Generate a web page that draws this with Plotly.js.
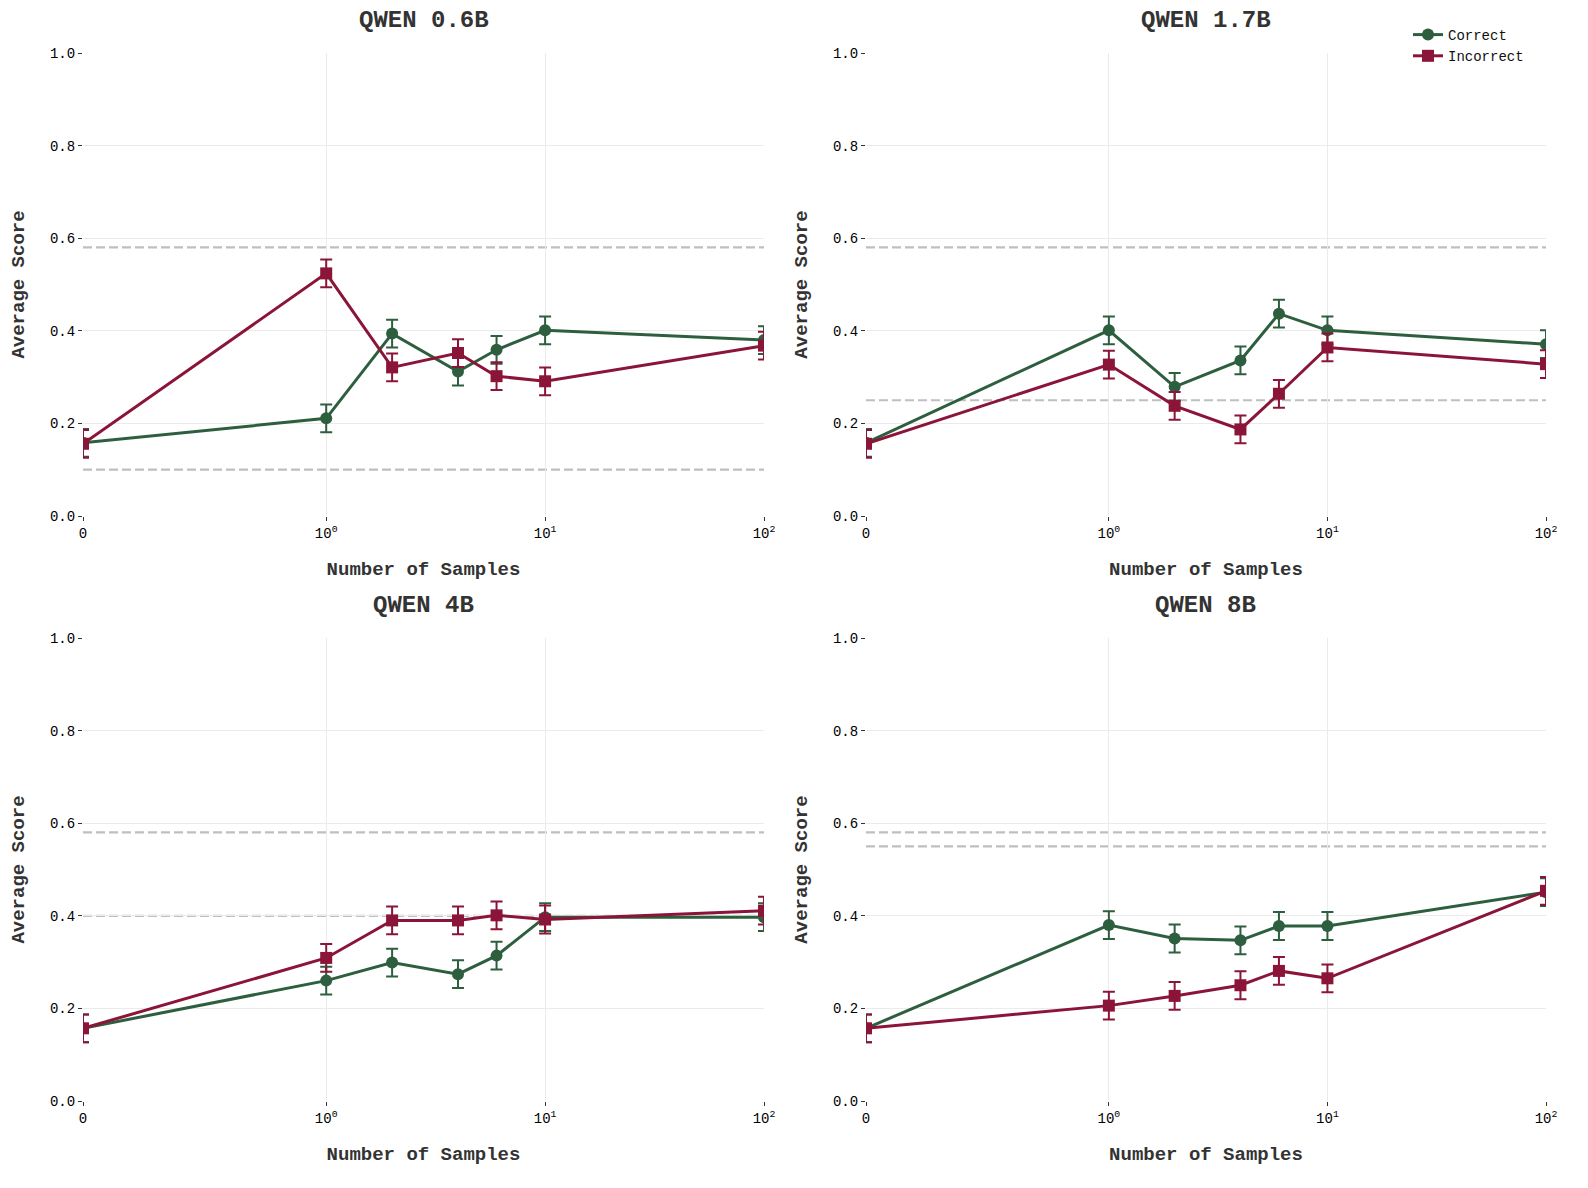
<!DOCTYPE html>
<html>
<head>
<meta charset="utf-8">
<script src="https://cdn.plot.ly/plotly-3.0.1.min.js"></script>
<style>html,body{margin:0;padding:0;background:#fff}</style>
</head>
<body>
<div id="chart" style="width:1588px;height:1188px"></div>
<script>
// sample counts on the x axis (symlog in the original)
const samples = [0, 1, 2, 4, 6, 10, 100];

const modelNames = ["QWEN 0.6B", "QWEN 1.7B", "QWEN 4B", "QWEN 8B"];

// average score per sample count
const correct_06b   = [0.158, 0.211, 0.394, 0.312, 0.359, 0.401, 0.380];
const incorrect_06b = [0.156, 0.524, 0.321, 0.352, 0.302, 0.291, 0.368];
const correct_17b   = [0.158, 0.401, 0.279, 0.336, 0.437, 0.401, 0.371];
const incorrect_17b = [0.156, 0.327, 0.238, 0.187, 0.264, 0.364, 0.328];
const correct_4b    = [0.157, 0.260, 0.299, 0.274, 0.314, 0.397, 0.397];
const incorrect_4b  = [0.157, 0.309, 0.390, 0.390, 0.401, 0.392, 0.411];
const correct_8b    = [0.157, 0.380, 0.351, 0.347, 0.378, 0.378, 0.451];
const incorrect_8b  = [0.157, 0.206, 0.227, 0.250, 0.281, 0.265, 0.454];

// error bar half widths
const correctErr   = [0.03, 0.03, 0.03, 0.03, 0.03, 0.03, 0.03];
const incorrectErr = [0.03, 0.03, 0.03, 0.03, 0.03, 0.03, 0.03];

// dashed reference levels per panel
const refs_06b = [0.58, 0.10];
const refs_17b = [0.58, 0.25];
const refs_4b  = [0.58, 0.40];
const refs_8b  = [0.58, 0.55];

const xTickVals = [0, 1, 10, 100];
const xTickText = ["0", "10<sup>0</sup>", "10<sup>1</sup>", "10<sup>2</sup>"];
const yTickVals = [0, 0.2, 0.4, 0.6, 0.8, 1.0];

const correctSeries   = [correct_06b, correct_17b, correct_4b, correct_8b];
const incorrectSeries = [incorrect_06b, incorrect_17b, incorrect_4b, incorrect_8b];
const refSeries       = [refs_06b, refs_17b, refs_4b, refs_8b];

const GREEN = "#2d5e3e";
const RED = "#8b1538";
const FONT = "Liberation Mono, DejaVu Sans Mono, monospace";

// matplotlib symlog, linthresh 1, linscale 1, base 10
const LINSCALE = 1 / (1 - 1 / 10);
function symlog(n) {
    return n <= 1 ? n * LINSCALE : LINSCALE + Math.log10(n);
}

const xs = samples.map(symlog);

// panel boxes in paper fractions
const W = 1588, H = 1188;
const colDomains = [[83 / W, 764 / W], [866 / W, 1546 / W]];
const rowDomains = [[1 - 516 / H, 1 - 53 / H], [1 - 1101 / H, 1 - 638 / H]];

const traces = [];
const shapes = [];
const annotations = [];
const layout = {
    width: W,
    height: H,
    margin: { l: 0, r: 0, t: 0, b: 0 },
    paper_bgcolor: "#fff",
    plot_bgcolor: "#fff",
    font: { family: FONT, color: "#000" },
    showlegend: true,
    legend: {
        x: 1408 / W, y: 1 - 19 / H,
        xanchor: "left", yanchor: "top",
        font: { family: FONT, size: 14, color: "#111" },
        bgcolor: "rgba(255,255,255,0)",
        itemwidth: 30,
        tracegroupgap: 0
    }
};

modelNames.forEach((name, i) => {
    const n = i + 1;
    const xa = n === 1 ? "x" : "x" + n;
    const ya = n === 1 ? "y" : "y" + n;
    const col = i % 2, row = Math.floor(i / 2);

    traces.push({
        x: xs, y: correctSeries[i],
        xaxis: xa, yaxis: ya,
        type: "scatter", mode: "lines+markers",
        name: "Correct", legendgroup: "c", showlegend: i === 0,
        line: { color: GREEN, width: 3 },
        marker: { color: GREEN, size: 12, symbol: "circle" },
        error_y: { type: "data", array: correctErr, color: GREEN, thickness: 2, width: 6 }
    });

    traces.push({
        x: xs, y: incorrectSeries[i],
        xaxis: xa, yaxis: ya,
        type: "scatter", mode: "lines+markers",
        name: "Incorrect", legendgroup: "i", showlegend: i === 0,
        line: { color: RED, width: 3 },
        marker: { color: RED, size: 12, symbol: "square" },
        error_y: { type: "data", array: incorrectErr, color: RED, thickness: 2, width: 6 }
    });

    refSeries[i].forEach(level => {
        shapes.push({
            type: "line", layer: "below",
            xref: xa + " domain", yref: ya,
            x0: 0, x1: 1, y0: level, y1: level,
            line: { color: "#bfbfbf", width: 2.2, dash: "9px,4px" }
        });
    });

    const dom = colDomains[col];
    annotations.push({
        text: "<b>" + name + "</b>",
        xref: "paper", yref: "paper",
        x: (dom[0] + dom[1]) / 2,
        y: rowDomains[row][1] + 17 / H,
        xanchor: "center", yanchor: "bottom",
        showarrow: false,
        font: { family: FONT, size: 24, color: "#333" }
    });

    layout["xaxis" + (n === 1 ? "" : n)] = {
        domain: dom,
        anchor: ya,
        range: [0, symlog(100)],
        tickvals: xTickVals.map(symlog),
        ticktext: xTickText,
        tickfont: { family: FONT, size: 14, color: "#000" },
        ticks: "outside", ticklen: 4, tickwidth: 1, tickcolor: "#333",
        showgrid: true, gridcolor: "#ebebeb", gridwidth: 1,
        zeroline: false, showline: false,
        title: {
            text: "<b>Number of Samples</b>",
            font: { family: FONT, size: 19, color: "#333" },
            standoff: 20
        }
    };

    layout["yaxis" + (n === 1 ? "" : n)] = {
        domain: rowDomains[row],
        anchor: xa,
        range: [0, 1],
        tickvals: yTickVals,
        tickformat: ".1f",
        tickfont: { family: FONT, size: 14, color: "#000" },
        ticks: "outside", ticklen: 4, tickwidth: 1, tickcolor: "#333",
        showgrid: true, gridcolor: "#ebebeb", gridwidth: 1,
        zeroline: false, showline: false,
        title: {
            text: "<b>Average Score</b>",
            font: { family: FONT, size: 19, color: "#333" },
            standoff: 20
        }
    };
});

layout.shapes = shapes;
layout.annotations = annotations;

Plotly.newPlot("chart", traces, layout, { displayModeBar: false, staticPlot: true });
</script>
</body>
</html>
